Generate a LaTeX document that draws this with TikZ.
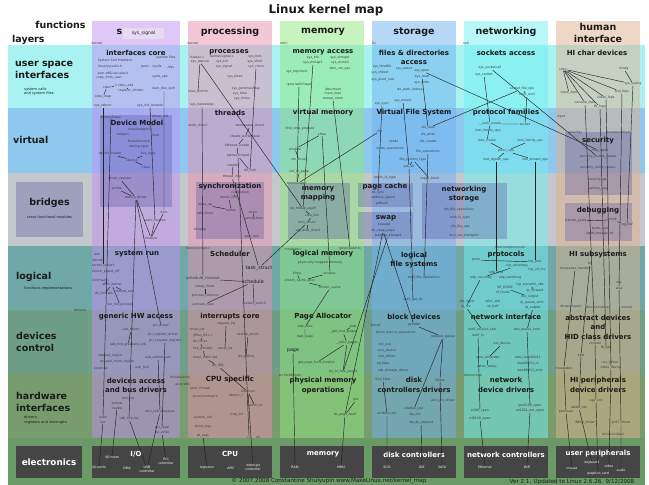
\documentclass[tikz,border=0pt]{standalone}
\usepackage{fontspec}
\setmainfont{DejaVu Sans}
\usepackage{xcolor}
\usepackage{tikz}
\definecolor{ink}{HTML}{1A1A1A}
\definecolor{wirec}{HTML}{222222}
\definecolor{bandusr}{HTML}{A8F2F2}
\definecolor{bandvirt}{HTML}{8EC8EE}
\definecolor{bandbrdg}{HTML}{C4C8CC}
\definecolor{bandlog}{HTML}{70A8A8}
\definecolor{banddev}{HTML}{6E9E86}
\definecolor{bandhw}{HTML}{789C6E}
\definecolor{bandel}{HTML}{6A9A66}
\definecolor{colsys}{HTML}{C090F0}
\definecolor{colproc}{HTML}{E890B0}
\definecolor{colmem}{HTML}{90E880}
\definecolor{colstor}{HTML}{70B0F0}
\definecolor{colnet}{HTML}{70F0F0}
\definecolor{colhi}{HTML}{E0B090}
\definecolor{subfill}{HTML}{4848A0}
\definecolor{elecbox}{HTML}{454545}
\definecolor{sigbox}{HTML}{E6DAF6}
\tikzset{
  colbox/.style={draw=none, fill opacity=0.5},
  subbox/.style={draw=none, fill=subfill, fill opacity=0.3},
  elbox/.style={draw=none, fill=elecbox},
  title/.style={font=\fontsize{11.8}{13}\selectfont\bfseries, text=ink},
  colhd/.style={font=\fontsize{9.5}{12}\selectfont\bfseries, text=ink, align=center},
  layer/.style={font=\fontsize{9.5}{12.5}\selectfont\bfseries, text=ink, align=left, anchor=west, inner sep=0pt},
  layernote/.style={font=\fontsize{3.6}{4.4}\selectfont, text=ink, align=left, anchor=west, inner sep=0pt},
  hd/.style={font=\fontsize{7}{9.5}\selectfont\bfseries, text=ink, align=center, inner sep=0.5pt},
  sm/.style={font=\fontsize{3.2}{3.8}\selectfont, text=ink!85, align=center, inner sep=0.4pt},
  md/.style={font=\fontsize{4.8}{5.5}\selectfont, text=ink, inner sep=0.4pt},
  elhd/.style={font=\fontsize{7}{8}\selectfont\bfseries, text=white},
  elsm/.style={font=\fontsize{3.2}{3.8}\selectfont, text=white, align=center, inner sep=0.4pt},
  foot/.style={font=\fontsize{5.6}{6}\selectfont, text=ink, inner sep=0pt},
  wire/.style={draw=wirec, line width=0.45pt},
}

\begin{document}
\begin{tikzpicture}[x=1pt, y=-1pt]
  \useasboundingbox (0,0) rectangle (649,485);
  \fill[white] (0,0) rectangle (649,485);

  % layer bands
  \fill[bandusr]  (8,45)  rectangle (645,108);
  \fill[bandvirt] (8,108) rectangle (645,173);
  \fill[bandbrdg] (8,173) rectangle (645,246);
  \fill[bandlog]  (8,246) rectangle (645,310);
  \fill[banddev]  (8,310) rectangle (645,374);
  \fill[bandhw]   (8,374) rectangle (645,438);
  \fill[bandel]   (8,438) rectangle (645,485);

  % function columns
  \fill[colbox, colsys]  (92,21)  rectangle (180,438);
  \fill[colbox, colproc] (188,21) rectangle (272,438);
  \fill[colbox, colmem]  (280,21) rectangle (364,438);
  \fill[colbox, colstor] (372,21) rectangle (456,438);
  \fill[colbox, colnet]  (464,21) rectangle (548,438);
  \fill[colbox, colhi]   (556,21) rectangle (640,438);

  % inner groups
  \fill[subbox] (16,182)  rectangle (83,237);
  \fill[subbox] (100,115) rectangle (172,207);
  \fill[subbox] (196,182) rectangle (264,239);
  \fill[subbox] (288,183) rectangle (350,239);
  \fill[subbox] (358,183) rectangle (413,207);
  \fill[subbox] (358,212) rectangle (413,239);
  \fill[subbox] (422,183) rectangle (507,239);
  \fill[subbox] (565,132) rectangle (632,195);
  \fill[subbox] (565,203) rectangle (632,241);

  % electronics
  \fill[elbox] (16,446)  rectangle (82,478);
  \fill[elbox] (92,446)  rectangle (180,478);
  \fill[elbox] (188,446) rectangle (272,478);
  \fill[elbox] (280,446) rectangle (364,478);
  \fill[elbox] (372,446) rectangle (456,478);
  \fill[elbox] (464,446) rectangle (548,478);
  \fill[elbox] (556,446) rectangle (640,478);

  \node[title] (maptitle) at (326,10) {Linux kernel map};

  % left side
  \node[colhd, anchor=east] (functions) at (89,25) {functions};
  \node[layer] (layers) at (12,40) {layers};
  \node[layer] (usrspace) at (15,70) {user space\\interfaces};
  \node[layernote] (usrnote) at (24,91.5) {system calls\\and system files};
  \node[layer] (virtual) at (13,140) {virtual};
  \node[colhd] (bridges) at (49.5,203) {bridges};
  \node[layernote, anchor=center] (brnote) at (49.5,217) {cross-functional modules};
  \node[layer] (logical) at (16,277) {logical};
  \node[layernote] (lognote) at (24,289) {functions implementations};
  \node[layer] (devctl) at (16,342) {devices\\control};
  \node[layer] (hwif) at (16,402) {hardware\\interfaces};
  \node[layernote] (hwnote) at (24,420) {drivers,\\registers and interrupts};
  \node[elhd, font=\fontsize{8.8}{10}\selectfont\bfseries] (electronics) at (49,462) {electronics};

  % column headers
  \node[colhd, anchor=east, inner sep=0pt] (system) at (122.5,32) {s};
  \node[draw=white!75!gray, fill=sigbox, font=\fontsize{4.6}{5}\selectfont, text=ink, minimum width=40pt, minimum height=10pt, inner sep=0pt] (syssignalhd) at (143.5,33) {sys\_signal};
  \node[colhd] (processing) at (230,32) {processing};
  \node[colhd] (memory) at (323,32) {memory};
  \node[colhd] (storage) at (414,32) {storage};
  \node[colhd] (networking) at (506,32) {networking};
  \node[colhd] (human) at (598,33) {human\\interface};

  % ---------- system ----------
  \node[sm] (kernelS) at (97,43) {kernel/};
  \node[hd] (ifcore) at (136,53) {interfaces core};
  \node[sm] (sci) at (115,61) {System Call Interface};
  \node[sm] (syscallsh) at (110,67) {linux/syscalls.h};
  \node[sm] (uaccess) at (113,73) {asm-x86/uaccess.h};
  \node[sm] (copyfu) at (109,78) {copy\_from\_user};
  \node[sm] (sysfiles) at (166,58) {system files};
  \node[sm] (procS) at (145,67) {/proc};
  \node[sm] (sysfsS) at (157,67) {/sysfs};
  \node[sm] (devS) at (171,67) {/dev};
  \node[sm] (sysfsops) at (160,77) {sysfs\_ops};
  \node[sm] (cdevS) at (107,87) {cdev};
  \node[sm] (cdevadd) at (124,86) {= cdev\_add};
  \node[sm] (regchr) at (131,91) {register\_chrdev};
  \node[sm] (cdevmap) at (103,97) {cdev\_map};
  \node[sm] (kvmioctl) at (164,89) {kvm\_dev\_ioctl};
  \node[sm] (sysreboot) at (103,106) {sys\_reboot};
  \node[sm] (sysinitmod) at (150,106) {sys\_init\_module};
  \node[sm] (drvbase) at (111,117) {drivers/base/};
  \node[sm] (drvinit) at (160,117) {driver\_init};
  \node[hd] (devmodel) at (137,123) {Device Model};
  \node[sm] (kobjh) at (140,130) {linux/kobject.h};
  \node[sm] (kobject) at (123,135) {kobject};
  \node[sm] (kset) at (156,135) {kset};
  \node[sm] (deviceh) at (139,141) {linux/device.h};
  \node[sm] (devtype) at (139,147) {device\_type};
  \node[sm] (devcreate) at (110,154) {device\_create};
  \node[sm] (bustype) at (148,154) {bus\_type};
  \node[sm] (deviceN) at (132,160) {Device};
  \node[sm] (classN) at (146,167) {class};
  \node[sm] (drvreg) at (120,179) {driver\_register};
  \node[sm] (probe) at (117,189) {probe};
  \node[sm] (devdrv) at (136,198) {device\_driver};
  \node[sm] (kvm) at (164,212) {kvm};
  \node[sm] (startmod) at (155,221) {start\_module};
  \node[sm] (module) at (151,238) {module};
  \node[hd] (sysrun) at (137,254) {system run};
  \node[sm] (exitS) at (97,254) {exit};
  \node[sm] (kernelS2) at (98,260) {kernel/};
  \node[sm] (krestart) at (103,266) {kernel\_restart};
  \node[sm] (kpoweroff) at (106,272) {kernel\_power\_off};
  \node[sm] (initmain) at (101,280) {init/main.c};
  \node[sm] (startkernel) at (112,285) {start\_kernel};
  \node[sm] (doinitcalls) at (104,294) {do\_initcalls};
  \node[sm] (mountroot) at (125,292) {mount\_root};
  \node[sm] (runinit) at (120,305) {run\_init\_process};
  \node[sm] (drivers) at (80,310) {drivers/};
  \node[hd] (genhw) at (136,317) {generic HW access};
  \node[sm] (pcidriver) at (161,326) {pci\_driver};
  \node[sm] (usbdriver) at (131,330) {usb\_driver};
  \node[sm] (pciregdrv) at (163,335) {pci\_register\_driver};
  \node[sm] (pcireqreg) at (165,341) {pci\_request\_regions};
  \node[sm] (usbgiveback) at (128,345) {usb\_hcd\_giveback\_urb};
  \node[sm] (reqregion) at (110,356) {request\_region};
  \node[sm] (reqmemregion) at (117,362) {request\_mem\_region};
  \node[sm] (usbsubmit) at (158,358) {usb\_submit\_urb};
  \node[sm] (ioremap) at (101,369) {ioremap};
  \node[sm] (usbhcd) at (142,368) {usb\_hcd};
  \node[hd] (devaccess) at (136,385.5) {devices access\\and bus drivers};
  \node[sm] (incasm) at (180,377) {include/asm/};
  \node[sm] (archx86) at (183,384) {arch/x86/};
  \node[sm] (ehciirq) at (128,399) {ehci\_irq};
  \node[sm] (writew) at (117,403) {writew};
  \node[sm] (readw) at (117,408) {readw};
  \node[sm] (ehciurb) at (160,412) {ehci\_urb\_enqueue};
  \node[sm] (outw) at (103,417) {outw};
  \node[sm] (inw) at (103,422) {inw};
  \node[sm] (usbhcdirq) at (129,419) {usb\_hcd\_irq};
  \node[sm] (pciread) at (162,428) {pci\_read};
  \node[sm] (pciwrite) at (162,433) {pci\_write};
  \node[elhd] (iohd) at (136,454) {I/O};
  \node[elsm] (iomem) at (112,457) {I/O mem};
  \node[elsm] (ioports) at (99,468) {I/O ports};
  \node[elsm] (dma) at (127,468) {DMA};
  \node[elsm] (usbctrl) at (147,469) {USB\\controller};
  \node[elsm] (pcictrl) at (166,461) {PCI\\controller};

  % ---------- processing ----------
  \node[sm] (kernelP) at (193,43) {kernel/};
  \node[hd] (processes) at (229,52) {processes};
  \node[sm] (fsexec) at (197,57) {fs/exec.c};
  \node[sm] (ksignal) at (222,57) {kernel/signal.c};
  \node[sm] (sysfork) at (255,57) {sys\_fork};
  \node[sm] (sysexecve) at (200,62) {sys\_execve};
  \node[sm] (syskill) at (222,62) {sys\_kill};
  \node[sm] (sysvfork) at (255,62) {sys\_vfork};
  \node[sm] (syssignal) at (224,67) {sys\_signal};
  \node[sm] (sysclone) at (256,67) {sys\_clone};
  \node[sm] (sysfutex) at (235,77) {sys\_futex};
  \node[sm] (linuxbinfmt) at (198,92) {linux\_binfmt};
  \node[sm] (sysgtod) at (246,89) {sys\_gettimeofday};
  \node[sm] (systime) at (240,94) {sys\_time};
  \node[sm] (systimes) at (242,99) {sys\_times};
  \node[sm] (sysnano) at (202,105) {sys\_nanosleep};
  \node[hd] (threads) at (230,113) {threads};
  \node[sm] (workstruct) at (198,126) {work\_struct};
  \node[sm] (wqstruct) at (250,126) {workqueue\_struct};
  \node[sm] (createwq) at (245,137) {create\_workqueue};
  \node[sm] (kthreadc) at (237,146) {kthread\_create};
  \node[sm] (kthread) at (238,156) {kernel\_thread};
  \node[sm] (current) at (233,165) {current};
  \node[sm] (dofork) at (250,171) {do\_fork};
  \node[sm] (threadinfo) at (232,177) {thread\_info};
  \node[hd] (sync) at (230,187) {synchronization};
  \node[sm] (completion) at (240,193) {completion};
  \node[sm] (mutexlock) at (229,198) {mutex\_lock};
  \node[sm] (wakeup) at (205,205) {wake\_up};
  \node[sm] (mutex) at (231,210) {mutex};
  \node[sm] (down) at (253,212) {down};
  \node[sm] (addtimer) at (205,214) {add\_timer};
  \node[sm] (semaphore) at (254,219) {semaphore};
  \node[sm] (msleep) at (200,230) {msleep};
  \node[sm] (spinlock) at (252,237) {spin\_lock};
  \node[sm] (ksched) at (198,248) {kernel/sched.c};
  \node[hd] (scheduler) at (230,254) {Scheduler};
  \node[md] (taskstruct) at (259,268) {task\_struct};
  \node[sm, font=\fontsize{3.8}{4}\selectfont] (schedtimeout) at (203,279) {schedule\_timeout};
  \node[md] (schedule) at (253,282) {schedule};
  \node[sm] (setuptimer) at (205,287) {setup\_timer};
  \node[sm] (proctimeout) at (205,296) {process\_timeout};
  \node[sm] (acttask) at (203,305) {activate\_task};
  \node[sm] (ctxswitch) at (254,304) {context\_switch};
  \node[hd] (intcore) at (230,317) {interrupts core};
  \node[sm] (requestirq) at (226,324) {request\_irq};
  \node[sm] (timerlist) at (197,330) {timer\_list};
  \node[sm] (tasklet) at (248,335) {tasklet\_struct};
  \node[sm] (jiffies) at (203,336) {jiffies\_64++};
  \node[sm] (dotimer) at (200,342) {do\_timer};
  \node[sm] (setupirq) at (225,349) {setup\_irq};
  \node[sm] (tickper) at (203,349) {tick\_periodic};
  \node[sm] (dosoftirq) at (246,357) {do\_softirq};
  \node[sm] (timerint) at (205,358) {timer\_interrupt};
  \node[sm] (doirq) at (218,366) {do\_IRQ};
  \node[hd] (cpuspec) at (230,380) {CPU specific};
  \node[sm] (startthread) at (200,389) {start\_thread};
  \node[sm] (procint) at (205,397) {/proc/interrupts};
  \node[sm] (atomict) at (236,396) {atomic\_t};
  \node[sm] (interrupt) at (248,392) {interrupt};
  \node[sm] (switchto) at (255,406) {switch\_to};
  \node[sm] (syscall) at (203,418) {system\_call};
  \node[sm] (trapinit) at (237,415) {trap\_init};
  \node[sm] (showregs) at (203,427) {show\_regs};
  \node[sm] (ptregs) at (203,436) {pt\_regs};
  \node[sm] (cli) at (249,437) {cli};
  \node[sm] (sti) at (258,437) {sti};
  \node[elhd] (cpuhd) at (230,454) {CPU};
  \node[elsm] (registers) at (207,468) {registers};
  \node[elsm] (apic) at (231,468) {APIC};
  \node[elsm] (intctrl) at (253,467) {interrupt\\controller};

  % ---------- memory ----------
  \node[sm] (mmP) at (284,43) {mm/};
  \node[hd] (memaccess) at (323,52) {memory access};
  \node[sm] (sysbrk) at (313,58) {sys\_brk};
  \node[sm] (sysshmget) at (340,58) {sys\_shmget};
  \node[sm] (sysmmap2) at (313,63) {sys\_mmap2};
  \node[sm] (sysshmctl) at (340,63) {sys\_shmctl};
  \node[sm] (shmvmops) at (340,69) {shm\_vm\_ops};
  \node[sm] (sysmprotect) at (297,72) {sys\_mprotect};
  \node[sm] (procselfmaps) at (299,85) {/proc/self/maps};
  \node[sm] (devmem) at (333,89) {/dev/mem};
  \node[sm] (memfops) at (333,94) {mem\_fops};
  \node[sm] (mmapmem) at (333,99) {mmap\_mem};
  \node[hd] (virtmem) at (323,113) {virtual memory};
  \node[sm] (findvma) at (300,129) {find\_vma\_prepare};
  \node[sm] (vfree) at (322,134) {vfree};
  \node[sm] (vmalloc) at (295,149) {vmalloc};
  \node[sm] (vmstruct) at (299,160) {vm\_struct};
  \node[sm] (virttopage) at (299,172) {virt\_to\_page};
  \node[sm] (mmmapc) at (297,184) {mm/mmap.c};
  \node[hd] (mmapping) at (318,194) {memory\\mapping};
  \node[sm] (domapp) at (303,209) {do\_mmap\_pgoff};
  \node[sm] (vmalink) at (312,216) {vma\_link};
  \node[sm] (mmstruct) at (307,223) {mm\_struct};
  \node[sm] (vmarea) at (308,231) {vm\_area\_struct};
  \node[sm] (mmslab) at (293,249) {mm/slab.c};
  \node[sm] (procslab) at (350,249) {/proc/slabinfo};
  \node[hd] (logmem) at (323,254) {logical memory};
  \node[sm] (physmapped) at (320,263) {physically mapped memory};
  \node[sm] (kfree) at (297,273) {kfree};
  \node[sm] (kmalloc) at (330,273) {kmalloc};
  \node[sm] (kmemcachealloc) at (300,281) {kmem\_cache\_alloc};
  \node[sm] (kmemcache) at (330,288) {kmem\_cache};
  \node[hd] (pagealloc) at (323,317) {Page Allocator};
  \node[sm] (slaballoc) at (305,327) {slab\_alloc};
  \node[sm] (slab) at (353,326) {slab};
  \node[sm] (getfreepages) at (343,332) {\_\_get\_free\_pages};
  \node[sm] (slabpage) at (305,337) {slab\_page};
  \node[sm] (allocpages) at (347,343) {\_\_alloc\_pages};
  \node[md] (page) at (293,351) {page};
  \node[sm] (getpagefl) at (316,363) {get\_page\_from\_freelist};
  \node[sm] (trytofree) at (343,372) {try\_to\_free\_pages};
  \node[sm] (archmm) at (290,375) {arch/x86/mm/};
  \node[hd] (physmem) at (323,385.5) {physical memory\\operations};
  \node[sm] (pte) at (356,400) {pte};
  \node[sm] (dopagefault) at (345,415) {do\_page\_fault};
  \node[elhd] (memhd) at (323,454) {memory};
  \node[elsm] (ram) at (295,467) {RAM};
  \node[elsm] (mmu) at (341,467) {MMU};

  % ---------- storage ----------
  \node[sm] (fsP) at (374,43) {fs/};
  \node[hd] (filesacc) at (414,57.5) {files \& directories\\access};
  \node[sm] (sysfstat) at (382,67) {sys\_fstat64};
  \node[sm] (sysselect) at (404,68.5) {sys\_select};
  \node[sm] (syschroot) at (380,73) {sys\_chroot};
  \node[sm] (syspivot) at (383,80) {sys\_pivot\_root};
  \node[sm] (sysopen) at (422,71) {sys\_open};
  \node[sm] (sysread) at (422,77) {sys\_read};
  \node[sm] (syswrite) at (422,83) {sys\_write};
  \node[sm] (dopath) at (410,90) {do\_path\_lookup};
  \node[sm] (sysmount) at (403,101) {sys\_mount};
  \node[sm] (syssync) at (382,104) {sys\_sync};
  \node[hd] (vfs) at (414,113) {Virtual File System};
  \node[sm] (vfsread) at (428,128) {vfs\_read};
  \node[sm] (vfswrite) at (428,135) {vfs\_write};
  \node[sm] (vfscreate) at (428,142) {vfs\_create};
  \node[sm] (fileS) at (380,131) {file};
  \node[sm] (inode) at (394,141) {inode};
  \node[sm] (inodeops) at (390,149) {inode\_operations};
  \node[sm] (fileops) at (428,152) {file\_operations};
  \node[sm] (fstype) at (413,160) {file\_system\_type};
  \node[sm] (getsb) at (409,167) {get\_sb};
  \node[sm] (ramfs) at (385,178) {ramfs\_fs\_type};
  \node[sm] (superblock) at (430,179) {super\_block};
  \node[hd] (pagecache) at (385,187) {page cache};
  \node[sm] (dosync) at (378,193) {do\_sync};
  \node[sm] (addrspace) at (383,198) {address\_space};
  \node[sm] (pdflush) at (382,204) {pdflush};
  \node[hd] (swap) at (386,218) {swap};
  \node[sm] (kswapd) at (384,225) {kswapd};
  \node[sm] (doswappage) at (383,231) {do\_swap\_page};
  \node[sm] (wakeupkswapd) at (388,236) {wakeup\_kswapd};
  \node[hd] (netstor) at (464,194) {networking\\storage};
  \node[sm] (nfsfops) at (459,210) {nfs\_file\_operations};
  \node[sm] (smbfs) at (460,218) {smb\_fs\_type};
  \node[sm] (cifsfops) at (460,227) {cifs\_file\_ops};
  \node[sm] (iscsi) at (464,236) {iscsi\_tcp\_transport};
  \node[hd] (logfs) at (414,260) {logical\\file systems};
  \node[sm] (ext3fops) at (424,278) {ext3\_file\_operations};
  \node[sm] (ext3getsb) at (413,300) {ext3\_get\_sb};
  \node[hd] (blockdev) at (414,317) {block devices};
  \node[sm] (blockP) at (376,325) {block/};
  \node[sm] (gendisk) at (414,325) {gendisk};
  \node[sm] (bdops) at (396,333) {block\_device\_operations};
  \node[sm] (reqqueue) at (443,337) {request\_queue};
  \node[sm] (initscsi) at (385,345) {init\_scsi};
  \node[sm] (scsidevice) at (387,351) {scsi\_device};
  \node[sm] (scsidriver) at (387,357) {scsi\_driver};
  \node[sm] (sdfops) at (383,364) {sd\_fops};
  \node[sm] (usbstor) at (393,371) {usb\_storage\_driver};
  \node[sm] (scsihost) at (383,380) {Scsi\_Host};
  \node[sm] (libata) at (440,380) {libata};
  \node[hd] (diskdrv) at (414,385) {disk\\controllers drivers};
  \node[sm] (ahcipci) at (443,401) {ahci\_pci\_driver};
  \node[sm] (idediskops) at (414,409) {idedisk\_ops};
  \node[sm] (aic94) at (387,414) {aic94xx\_init};
  \node[sm] (ideintr) at (415,415) {ide\_intr};
  \node[sm] (idedoreq) at (421,423) {ide\_do\_request};
  \node[elhd] (diskhd) at (414,455) {disk controllers};
  \node[elsm] (scsi) at (387,467) {SCSI};
  \node[elsm] (ide) at (422,467) {IDE};
  \node[elsm] (sata) at (442,467) {SATA};

  % ---------- networking ----------
  \node[sm] (netP) at (466,43) {net/};
  \node[hd] (sockacc) at (506,53) {sockets access};
  \node[sm] (syssockcall) at (490,68) {sys\_socketcall};
  \node[sm] (syssocket) at (484,75) {sys\_socket};
  \node[sm] (sockfops) at (522,89) {socket\_file\_ops};
  \node[sm] (sockioctl) at (527,95) {sock\_ioctl};
  \node[hd] (protofam) at (506,113) {protocol families};
  \node[sm] (sockcreate) at (490,124) {\_\_sock\_create};
  \node[sm] (socketN) at (525,124) {socket};
  \node[sm] (inetfam) at (488,131) {inet\_family\_ops};
  \node[sm] (inetcreate) at (487,141) {inet\_create};
  \node[sm] (unixfam) at (530,141) {unix\_family\_ops};
  \node[sm] (protoops) at (506,151) {proto\_ops};
  \node[sm] (inetdgram) at (496,160) {inet\_dgram\_ops};
  \node[sm] (inetstream) at (535,160) {inet\_stream\_ops};
  \node[sm] (procnetproto) at (510,248) {/proc/net/protocols};
  \node[hd] (protocols) at (506,255) {protocols};
  \node[sm] (protoN) at (476,260) {proto};
  \node[sm] (tcpprot) at (535,262) {tcp\_prot};
  \node[sm] (tcpsend) at (517,266) {tcp\_sendmsg};
  \node[sm] (tcprcv) at (537,270) {tcp\_v4\_rcv};
  \node[sm] (udpprot) at (496,273) {udp\_prot};
  \node[sm] (udprecv) at (481,278) {udp\_recvmsg};
  \node[sm] (udpsend) at (510,278) {udp\_sendmsg};
  \node[sm] (tcpxmit) at (530,285) {tcp\_transmit\_skb};
  \node[sm] (nfhook) at (505,288) {NF\_HOOK};
  \node[sm] (ipforward) at (535,291) {ip\_forward};
  \node[sm] (nfhooks) at (503,293) {nf\_hooks};
  \node[sm] (dstoutput) at (530,297) {dst\_output};
  \node[sm] (dstinput) at (467,302) {dst\_input};
  \node[sm] (allocskb) at (493,302) {alloc\_skb};
  \node[sm] (ipqxmit) at (532,303) {ip\_queue\_xmit};
  \node[sm] (iprcv) at (466,307) {ip\_rcv};
  \node[sm] (skbuff) at (493,307) {sk\_buff};
  \node[sm] (ipoutput) at (533,308) {ip\_output};
  \node[hd] (netif) at (506,317) {network interface};
  \node[sm] (netifrecv) at (482,330) {netif\_receive\_skb};
  \node[sm] (devqxmit) at (527,330) {dev\_queue\_xmit};
  \node[sm] (netifrx) at (478,336) {netif\_rx};
  \node[sm] (netdevice) at (502,344) {net\_device};
  \node[sm] (allocether) at (488,358) {alloc\_etherdev};
  \node[sm] (allocieee) at (528,358) {alloc\_ieee80211};
  \node[sm] (ieeerx) at (528,364) {ieee80211\_rx};
  \node[sm] (ethersetup) at (487,367) {ether\_setup};
  \node[sm] (ieeexmit) at (530,371) {ieee80211\_xmit};
  \node[sm] (drvnet) at (473,375) {drivers/net/};
  \node[hd] (netdevdrv) at (506,385) {network\\device drivers};
  \node[sm] (ipw2100) at (530,406) {ipw2100\_open};
  \node[sm] (zd1201) at (530,411) {zd1201\_net\_open};
  \node[sm] (e100) at (480,411) {e100\_open};
  \node[sm] (rtl8139) at (480,419) {rtl8139\_open};
  \node[elhd] (nethd) at (506,455) {network controllers};
  \node[elsm] (ethernet) at (485,467) {Ethernet};
  \node[elsm] (wifi) at (527,467) {WiFi};

  % ---------- human interface ----------
  \node[hd] (hichar) at (597,53) {HI char devices};
  \node[sm] (cdevH) at (563,69) {cdev};
  \node[sm] (kmsg) at (624,69) {kmsg};
  \node[sm] (syssyslog) at (633,84) {sys\_syslog};
  \node[sm] (inputfops) at (569,93) {input\_fops};
  \node[sm] (sndfops) at (622,92) {snd\_fops};
  \node[sm] (videofops) at (606,98) {video\_fops};
  \node[sm] (consolefops) at (585,103) {console\_fops};
  \node[sm] (fbfops) at (600,107) {fb\_fops};
  \node[sm] (input) at (561,117) {input};
  \node[sm] (secdir) at (575,133) {security/};
  \node[sm] (sech) at (618,133) {linux/security.h};
  \node[hd] (security) at (598,141) {security};
  \node[sm] (mayopen) at (600,151) {may\_open};
  \node[sm] (secsock) at (598,157) {security\_socket\_create};
  \node[sm] (secinode) at (598,168) {security\_inode\_create};
  \node[sm] (secops) at (598,180) {security\_ops};
  \node[sm] (selinux) at (598,189) {selinux\_ops};
  \node[hd] (debugging) at (598,211) {debugging};
  \node[sm] (sysrq) at (576,221) {handle\_sysrq};
  \node[sm] (printk) at (612,220) {printk};
  \node[sm] (logbuf) at (627,225) {log\_buf};
  \node[sm] (kgdbwait) at (600,229) {kgdb\_wait};
  \node[sm] (kgdbbp) at (600,234) {kgdb\_breakpoint};
  \node[hd] (hisubs) at (598,255) {HI subsystems};
  \node[sm] (tty) at (590,264) {tty};
  \node[sm] (mousedevh) at (575,269) {mousedev\_handler};
  \node[sm] (oss) at (619,283) {oss};
  \node[sm] (alsa) at (619,288) {alsa};
  \node[sm] (drvinput) at (571,307) {drivers/input/};
  \node[sm] (drvmedia) at (598,307) {drivers/media/};
  \node[sm] (sound) at (627,307) {sound/};
  \node[hd] (absdev) at (598,327) {abstract devices\\and\\HID class drivers};
  \node[sm] (console) at (595,343) {console};
  \node[sm] (fbops) at (606,348) {fb\_ops};
  \node[sm] (kbd) at (581,355) {kbd};
  \node[sm] (uvcdrv) at (610,363) {uvc\_driver};
  \node[sm] (mousedev) at (564,368) {mousedev};
  \node[sm] (videodev) at (611,368) {video\_device};
  \node[hd] (hiperiph) at (598,385) {HI peripherals\\device drivers};
  \node[sm] (vgacon) at (596,401) {vga\_con};
  \node[sm] (atkbd) at (579,408) {atkbd\_drv};
  \node[sm] (psmouse) at (566,412) {psmouse};
  \node[sm] (i8042) at (585,423) {i8042\_driver};
  \node[sm] (ac97) at (621,423) {ac97\_driver};
  \node[sm] (drvvideo) at (613,434) {drivers/video/};
  \node[elhd] (uphd) at (598,454) {user peripherals};
  \node[elsm] (keyboard) at (592,463) {keyboard};
  \node[elsm] (mouse) at (572,469) {mouse};
  \node[elsm] (graphics) at (598,474) {graphics card};
  \node[elsm] (video) at (609,466) {video};
  \node[elsm] (audio) at (621,470) {audio};

  % footer
  \node[foot] (copyright) at (329,481.5) {© 2007,2008 Constantine Shulyupin www.MakeLinux.net/kernel\_map};
  \node[foot] (version) at (572,481.5) {Ver 2.1. Updated to Linux 2.6.26. 9/12/2008};

  % ---------- connections ----------
  % system
  \draw[wire] (cdevS) -- (cdevmap);
  \draw[wire] (cdevS) -- (cdevadd) -- (regchr);
  \draw[wire] (sysreboot) -- (krestart);
  \draw[wire] (kvmioctl) -- (kvm) -- (module);
  \draw[wire] (sysinitmod) -- (startmod) -- (module);
  \draw[wire] (drvreg) -- (devdrv);
  \draw[wire] (probe) -- (devdrv);
  \draw[wire] (devdrv) -- (module);
  \draw[wire] (devcreate) -- (deviceN);
  \draw[wire] (bustype) -- (deviceN) -- (classN);
  \draw[wire] (drvbase) -- (outw);
  \draw[wire] (devdrv) -- (usbhcdirq);
  \draw[wire] (devdrv) -- (pcidriver);
  \draw[wire] (initmain) -- (startkernel);
  \draw[wire] (startkernel) -- (doinitcalls);
  \draw[wire] (startkernel) -- (mountroot);
  \draw[wire] (startkernel) -- (runinit);
  \draw[wire] (usbdriver) -- (usbgiveback);
  \draw[wire] (pcireqreg) -- (pciread);
  \draw[wire] (usbsubmit) -- (ehciurb);
  \draw[wire] (readw) -- (iomem);
  \draw[wire] (inw) -- (ioports);
  \draw[wire] (usbhcdirq) -- (usbctrl);
  \draw[wire] (ehciurb) -- (usbctrl);
  \draw[wire] (pciwrite) -- (pcictrl);
  % processing
  \draw[wire] (sysexecve) -- (linuxbinfmt);
  \draw[wire] (sysexecve) -- (domapp);
  \draw[wire] (sysclone) -- (dofork);
  \draw[wire] (sysnano) -- (schedtimeout);
  \draw[wire] (wqstruct) -- (createwq) -- (kthreadc) -- (kthread) -- (dofork);
  \draw[wire] (current) -- (threadinfo);
  \draw[wire] (threadinfo) -- (taskstruct);
  \draw[wire] (completion) -- (mutexlock) -- (mutex);
  \draw[wire] (wakeup) -- (mutex);
  \draw[wire] (down) -- (semaphore);
  \draw[wire] (schedtimeout) -- (schedule) -- (ctxswitch);
  \draw[wire] (setuptimer) -- (proctimeout);
  \draw[wire] (acttask) -- (schedule);
  \draw[wire] (taskstruct) -- (mmstruct);
  \draw[wire] (jiffies) -- (dotimer) -- (tickper) -- (timerint) -- (doirq) -- (interrupt);
  \draw[wire] (tasklet) -- (dosoftirq);
  \draw[wire] (requestirq) -- (setupirq);
  \draw[wire] (interrupt) -- (switchto);
  \draw[wire] (interrupt) -- (intctrl);
  \draw[wire] (ptregs) -- (registers);
  \draw[wire] (kthread) -- (cli);
  % memory
  \draw[wire] (sysmmap2) -- (domapp);
  \draw[wire] (procselfmaps) -- (mmmapc);
  \draw[wire] (vfree) -- (vmalloc) -- (vmstruct);
  \draw[wire] (vfree) -- (kmalloc);
  \draw[wire] (virttopage) -- (mmmapc);
  \draw[wire] (fileS) -- (mmmapc);
  \draw[wire] (domapp) -- (vmalink) -- (mmstruct) -- (vmarea);
  \draw[wire] (kmalloc) -- (kmemcachealloc);
  \draw[wire] (kfree) -- (kmemcachealloc);
  \draw[wire] (kmemcachealloc) -- (kmemcache);
  \draw[wire] (kmemcache) -- (slaballoc) -- (slabpage);
  \draw[wire] (slab) -- (getfreepages) -- (allocpages) -- (getpagefl);
  \draw[wire] (trytofree) -- (allocpages);
  \draw[wire] (page) -- (ram);
  \draw[wire] (pte) -- (dopagefault) -- (mmu);
  \draw[wire] (mmapmem) -- (procslab);
  % storage
  \draw[wire] (sysopen) -- (mayopen);
  \draw[wire] (sysread) -- (vfsread);
  \draw[wire] (sysmount) -- (getsb);
  \draw[wire] (syssync) -- (dosync);
  \draw[wire] (fstype) -- (getsb);
  \draw[wire] (fstype) -- (superblock);
  \draw[wire] (fileops) -- (ext3fops);
  \draw[wire] (getsb) -- (ext3getsb);
  \draw[wire] (sockfops) -- (vfsread);
  \draw[wire] (doswappage) -- (dopagefault);
  \draw[wire] (wakeupkswapd) -- (trytofree);
  \draw[wire] (doswappage) -- (gendisk);
  \draw[wire] (gendisk) -- (reqqueue);
  \draw[wire] (reqqueue) -- (idediskops);
  \draw[wire] (reqqueue) -- (libata) -- (sata);
  \draw[wire] (scsihost) -- (aic94) -- (scsi);
  \draw[wire] (idedoreq) -- (ide);
  % networking
  \draw[wire] (syssocket) -- (sockcreate) -- (socketN);
  \draw[wire] (sockfops) -- (sockioctl) -- (socketN);
  \draw[wire] (sockcreate) -- (inetcreate) -- (protoops);
  \draw[wire] (unixfam) -- (protoops);
  \draw[wire] (protoops) -- (inetdgram);
  \draw[wire] (protoops) -- (inetstream);
  \draw[wire] (inetdgram) -- (udpprot);
  \draw[wire] (inetstream) -- (tcpprot);
  \draw[wire] (protoN) -- (tcpprot);
  \draw[wire] (udpprot) -- (udprecv) -- (iprcv);
  \draw[wire] (tcpsend) -- (udprecv);
  \draw[wire] (tcpxmit) -- (ipforward);
  \draw[wire] (nfhook) -- (dstoutput);
  \draw[wire] (iprcv) -- (netifrecv);
  \draw[wire] (ipoutput) -- (devqxmit);
  \draw[wire] (netdevice) -- (allocether) -- (ethersetup);
  \draw[wire] (netifrx) -- (e100);
  \draw[wire] (rtl8139) -- (ethernet);
  \draw[wire] (devqxmit) -- (ipw2100);
  \draw[wire] (zd1201) -- (wifi);
  % human interface
  \draw[wire] (cdevH) -- (inputfops);
  \draw[wire] (cdevH) -- (consolefops);
  \draw[wire] (cdevH) -- (fbfops);
  \draw[wire] (cdevH) -- (videofops);
  \draw[wire] (cdevH) -- (sndfops);
  \draw[wire] (cdevH) -- (syssyslog);
  \draw[wire] (kmsg) -- (syssyslog) -- (logbuf);
  \draw[wire] (sysrq) -- (printk) -- (logbuf);
  \draw[wire] (consolefops) -- (console);
  \draw[wire] (fbfops) -- (fbops);
  \draw[wire] (videofops) -- (videodev);
  \draw[wire] (sndfops) -- (alsa) -- (ac97) -- (audio);
  \draw[wire] (mousedevh) -- (mousedev) -- (psmouse) -- (mouse);
  \draw[wire] (tty) -- (kbd) -- (atkbd) -- (keyboard);
  \draw[wire] (console) -- (vgacon) -- (graphics);
  \draw[wire] (videodev) -- (video);
  \draw[wire] (secsock) -- (syssockcall);
\end{tikzpicture}
\end{document}
